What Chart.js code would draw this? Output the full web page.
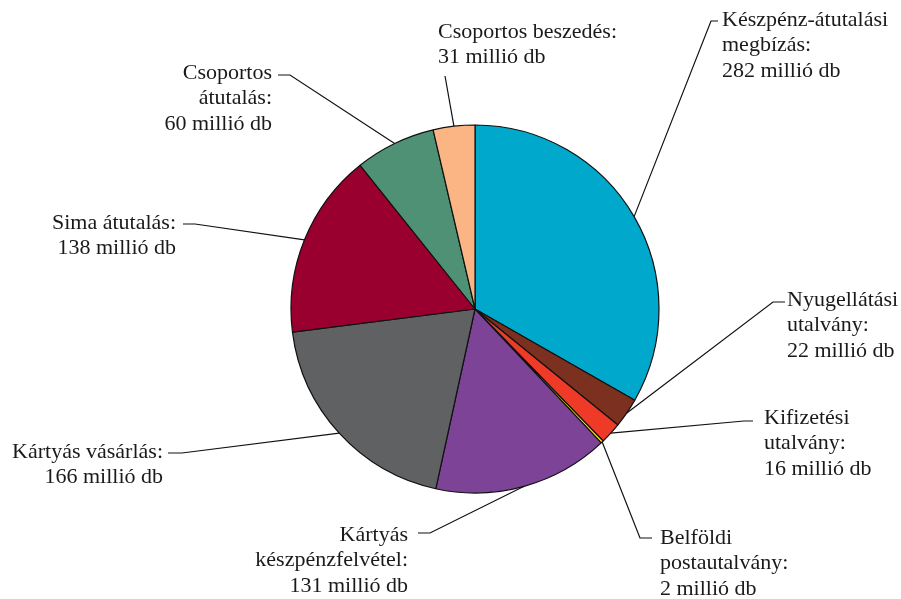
<!DOCTYPE html>
<html>
<head>
<meta charset="utf-8">
<script src="https://cdn.jsdelivr.net/npm/chart.js@4/dist/chart.umd.min.js"></script>
<style>
  html, body { margin: 0; padding: 0; background: #fff; }
  #wrap { width: 901px; height: 599px; }
</style>
</head>
<body>
<div id="wrap"><canvas id="graph" width="901" height="599"></canvas></div>
<script>
/* Adatok */
var categories = [
    "Készpénz-átutalási megbízás",
    "Nyugellátási utalvány",
    "Kifizetési utalvány",
    "Belföldi postautalvány",
    "Kártyás készpénzfelvétel",
    "Kártyás vásárlás",
    "Sima átutalás",
    "Csoportos átutalás",
    "Csoportos beszedés"
];
var values = [282, 22, 16, 2, 131, 166, 138, 60, 31];
var labelLines = [
    ["Készpénz-átutalási", "megbízás:"],
    ["Nyugellátási", "utalvány:"],
    ["Kifizetési", "utalvány:"],
    ["Belföldi", "postautalvány:"],
    ["Kártyás", "készpénzfelvétel:"],
    ["Kártyás vásárlás:"],
    ["Sima átutalás:"],
    ["Csoportos", "átutalás:"],
    ["Csoportos beszedés:"]
];
var unit = "millió db";

var colors = ["#00A9CB", "#7B3020", "#EE3A27", "#FFF200", "#7D4396",
              "#606163", "#99002F", "#4E9175", "#FBB584"];

/* Címkék elhelyezése: szöveg x, első sor y, könyök pont, vízszintes vonal vége */
var labelLayout = [
    { align: "left",  x: 722, y: 20,  ex: 711, ey: 21,  tx: 718 },
    { align: "left",  x: 787, y: 300, ex: 773, ey: 302, tx: 785 },
    { align: "left",  x: 764, y: 418, ex: 744, ey: 421, tx: 753 },
    { align: "left",  x: 660, y: 538, ex: 640, ey: 538, tx: 652 },
    { align: "right", x: 408, y: 535, ex: 430, ey: 533, tx: 418 },
    { align: "right", x: 163, y: 452, ex: 182, ey: 453, tx: 168 },
    { align: "right", x: 176, y: 223, ex: 195, ey: 224, tx: 183 },
    { align: "right", x: 272, y: 73,  ex: 290, ey: 75,  tx: 278 },
    { align: "left",  x: 438, y: 32,  ex: 445, ey: 76,  tx: 445 }
];
var lineHeight = 25.5;

/* Plugin a külső feliratokhoz */
var outsideLabels = {
    id: "outsideLabels",
    afterDraw: function(chart) {
        var ctx = chart.ctx;
        var arcs = chart.getDatasetMeta(0).data;
        ctx.save();
        arcs.forEach(function(arc, i) {
            var p = arc.getProps(["x", "y", "startAngle", "endAngle", "outerRadius"], true);
            var mid = (p.startAngle + p.endAngle) / 2;
            var sx = p.x + Math.cos(mid) * p.outerRadius;
            var sy = p.y + Math.sin(mid) * p.outerRadius;
            var l = labelLayout[i];

            ctx.strokeStyle = "#111";
            ctx.lineWidth = 1.2;
            ctx.beginPath();
            ctx.moveTo(sx, sy);
            ctx.lineTo(l.ex, l.ey);
            ctx.lineTo(l.tx, l.ey);
            ctx.stroke();

            var lines = labelLines[i].concat([values[i] + " " + unit]);
            ctx.fillStyle = "#1a1a1a";
            ctx.font = "22px 'Liberation Serif', 'DejaVu Serif', serif";
            ctx.textAlign = l.align;
            ctx.textBaseline = "middle";
            lines.forEach(function(t, k) {
                ctx.fillText(t, l.x, l.y + k * lineHeight);
            });
        });
        ctx.restore();
    }
};

var graph = document.getElementById("graph").getContext("2d");

var myChart = new Chart(graph, {
    type: "pie",
    data: {
        labels: categories,
        datasets: [{
            data: values,
            backgroundColor: colors,
            borderColor: "#111",
            borderWidth: 1.2,
        }],
    },
    options: {
        responsive: false,
        animation: false,
        radius: 184,
        layout: {
            padding: { left: 291, right: 242, top: 125, bottom: 106 },
        },
        plugins: {
            legend: { display: false },
            tooltip: { enabled: false },
        },
    },
    plugins: [outsideLabels],
});
</script>
</body>
</html>
